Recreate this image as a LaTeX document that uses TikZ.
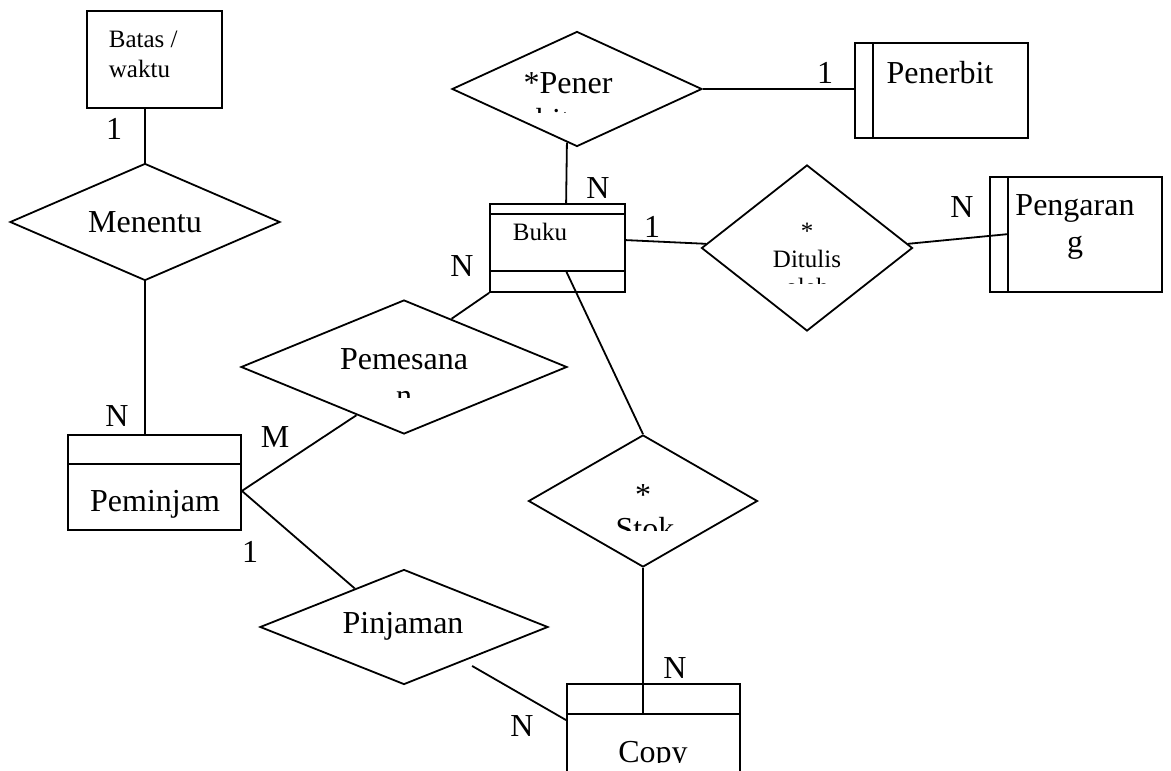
\documentclass[tikz,border=0pt]{standalone}
\usepackage{fontspec}
\setmainfont{Liberation Serif}
\usetikzlibrary{shapes.geometric,calc}
\begin{document}
\begin{tikzpicture}[x=1pt,y=-1pt,
  line width=1.8pt,
  ent/.style={draw, rectangle, inner sep=0pt},
  rel/.style={draw, diamond, inner sep=0pt},
  card/.style={font=\fontsize{32}{37}\selectfont, inner sep=0pt, anchor=center},
  txt/.style={font=\fontsize{32}{37}\selectfont, inner sep=0pt, anchor=base},
  stxt/.style={font=\fontsize{25}{30}\selectfont, inner sep=0pt, anchor=base},
]
\clip (0,0) rectangle (1171,771);

% entities
\node[ent, minimum width=135pt, minimum height=97pt]  (batas)     at (154.5,59.5) {};
\node[ent, minimum width=173pt, minimum height=95pt]  (peminjam)  at (154.5,482.5) {};
\node[ent, minimum width=135pt, minimum height=88pt]  (buku)      at (557.5,248) {};
\node[ent, minimum width=173pt, minimum height=95pt]  (penerbit)  at (941.5,90.5) {};
\node[ent, minimum width=172pt, minimum height=115pt] (pengarang) at (1076,234.5) {};
\node[ent, minimum width=173pt, minimum height=116pt] (copy)      at (653.5,742) {};

% compartment lines
\draw ($(peminjam.north west)+(0,30)$) -- ($(peminjam.north east)+(0,30)$);
\draw ($(buku.north west)+(0,11)$) -- ($(buku.north east)+(0,11)$);
\draw[line width=2.4pt] ($(buku.north west)+(0,68)$) -- ($(buku.north east)+(0,68)$);
\draw ($(penerbit.north west)+(19,0)$) -- ($(penerbit.south west)+(19,0)$);
\draw ($(pengarang.north west)+(19,0)$) -- ($(pengarang.south west)+(19,0)$);
\draw ($(copy.north west)+(0,31)$) -- ($(copy.north east)+(0,31)$);

% relationships
\node[rel, minimum width=270pt, minimum height=117pt] (menentu)    at (145,222) {};
\node[rel, minimum width=326pt, minimum height=134pt] (pemesanan)  at (404,367) {};
\node[rel, minimum width=250pt, minimum height=115pt] (penerbitan) at (577,89) {};
\node[rel, minimum width=211pt, minimum height=166pt] (ditulis)    at (807,248) {};
\node[rel, minimum width=229pt, minimum height=132pt] (stok)       at (643,501) {};
\node[rel, minimum width=288pt, minimum height=115pt] (pinjaman)   at (404,627) {};

% connectors
\coordinate (pmj) at ($(peminjam.south east)+(0,-40)$);
\draw (batas.south -| menentu.north) -- (menentu.north);
\draw (menentu.south) -- (menentu.south |- peminjam.north);
\draw (pmj) -- ($(pemesanan.west)!0.71!(pemesanan.south)$);
\draw ($(pemesanan.north)!0.29!(pemesanan.east)$) -- (buku.south west);
\draw ($(buku.north west)+(77,0)$) -- ($(penerbitan.south)!0.08!(penerbitan.west)$);
\draw (penerbitan.east) -- (penerbitan.east -| penerbit.west);
\draw ($(buku.north east)+(0,37)$) -- ($(ditulis.west)!0.05!(ditulis.north)$);
\draw ($(ditulis.east)!0.05!(ditulis.north)$) -- ($(pengarang.north west)+(19,58)$);
\draw ($(buku.north west)+(77,68)$) -- (stok.north);
\draw (stok.south) -- ($(stok.south |- copy.north)+(0,31)$);
\draw (pmj) -- ($(pinjaman.west)!0.66!(pinjaman.north)$);
\draw ($(pinjaman.south)!0.47!(pinjaman.east)+(0,8)$) -- ($(copy.north west)+(0,37)$);

% cardinalities
\node[card] (c1) at (114,129) {1};
\node[card] (c2) at (117,416) {N};
\node[card] (c3) at (275,437) {M};
\node[card] (c4) at (250,552) {1};
\node[card] (c5) at (462,266) {N};
\node[card] (c6) at (598,188) {N};
\node[card] (c7) at (652,227) {1};
\node[card] (c8) at (825,73) {1};
\node[card] (c9) at (962,207) {N};
\node[card] (c10) at (675,668) {N};
\node[card] (c11) at (522,726) {N};

% entity names
\node[stxt, anchor=base west] (tbatas1) at (108,47) {Batas /};
\node[stxt, anchor=base west] (tbatas2) at (108,77) {waktu};
\node[txt] (tpeminjam) at (155,511) {Peminjam};
\node[stxt, anchor=base west] (tbuku) at (512,240) {Buku};
\node[txt] (tpenerbit) at (940,83) {Penerbit};
\node[txt] (tpengarang1) at (1075,215) {Pengaran};
\node[txt] (tpengarang2) at (1075,252) {g};
\begin{scope}
  \clip (570,690) rectangle (735,762);
  \node[txt] (tcopy) at (653,762) {Copy};
\end{scope}

% relationship names
\node[card] (tmenentu) at (145,222) {Menentu};
\node[txt] (tpinjaman) at (403,633) {Pinjaman};
\begin{scope}
  \clip (300,330) rectangle (510,397);
  \node[txt] (tpemesanan1) at (404,369) {Pemesana};
  \node[txt] (tpemesanan2) at (404,406) {n};
\end{scope}
\begin{scope}
  \clip (500,60) rectangle (650,112);
  \node[txt] (tpenerbitan1) at (568,93) {*Pener};
  \node[txt] (tpenerbitan2) at (568,130) {bitan};
\end{scope}
\begin{scope}
  \clip (740,200) rectangle (880,283);
  \node[stxt] (tditulis0) at (807,239) {*};
  \node[stxt] (tditulis1) at (807,267) {Ditulis};
  \node[stxt] (tditulis2) at (807,295) {oleh};
\end{scope}
\begin{scope}
  \clip (580,470) rectangle (710,530);
  \node[txt] (tstok0) at (643,505) {*};
  \node[txt] (tstok1) at (645,539) {Stok};
\end{scope}
\end{tikzpicture}
\end{document}
